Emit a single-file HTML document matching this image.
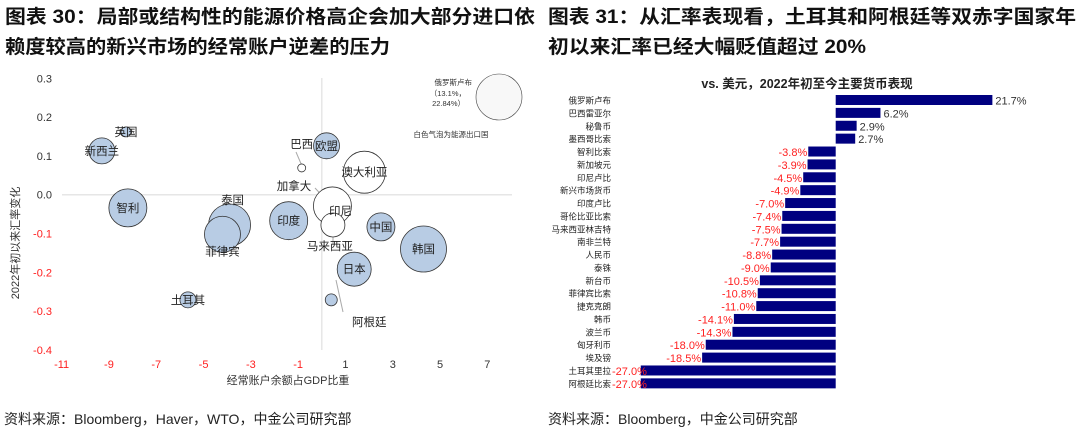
<!DOCTYPE html>
<html><head><meta charset="utf-8"><style>
html,body{margin:0;padding:0;background:#fff;width:1080px;height:435px;overflow:hidden}
text{font-family:"Liberation Sans","Noto Sans CJK SC",sans-serif}
</style></head><body>
<svg id="svg" width="1080" height="435" viewBox="0 0 1080 435" xmlns="http://www.w3.org/2000/svg">
<g font-weight="bold" font-size="19" fill="#111">
<text x="5" y="23" textLength="530" lengthAdjust="spacingAndGlyphs">图表 30：局部或结构性的能源价格高企会加大部分进口依</text>
<text x="5" y="53" textLength="385" lengthAdjust="spacingAndGlyphs">赖度较高的新兴市场的经常账户逆差的压力</text>
</g>
<g font-weight="bold" font-size="19" fill="#111">
<text x="548" y="23" textLength="528" lengthAdjust="spacingAndGlyphs">图表 31：从汇率表现看，土耳其和阿根廷等双赤字国家年</text>
<text x="548" y="53" textLength="318" lengthAdjust="spacingAndGlyphs">初以来汇率已经大幅贬值超过 20%</text>
</g>
<g id="bubble"></g>
<g id="bars"></g>
<text x="4" y="424" font-size="14" fill="#222">资料来源：Bloomberg，Haver，WTO，中金公司研究部</text>
<text x="548" y="424" font-size="14" fill="#222">资料来源：Bloomberg，中金公司研究部</text>
</svg>
<script>
// ---- bubble chart data ----
const bubbleNames = ["英国","新西兰","智利","泰国","菲律宾","土耳其","印度","巴西","欧盟","澳大利亚","印尼","马来西亚","中国","韩国","日本","阿根廷"];
const bubbleX = [-8.28,-9.3,-8.2,-3.9,-4.2,-5.66,-1.4,-0.85,0.2,1.8,0.45,0.47,2.5,4.3,1.37,0.4];
const bubbleY = [0.162,0.113,-0.034,-0.078,-0.102,-0.271,-0.067,0.069,0.126,0.058,-0.029,-0.078,-0.083,-0.14,-0.192,-0.271];
const bubbleSize = [5,13,19,21,18,8,19,4,13,21,19,12,14,23,17,6];
const bubbleExporter = [0,0,0,0,0,0,0,1,0,1,1,1,0,0,0,0];
const xTicks = [-11,-9,-7,-5,-3,-1,1,3,5,7];
const yTicks = [0.3,0.2,0.1,0.0,-0.1,-0.2,-0.3,-0.4];
// ---- bar chart data ----
const barCategories = ["俄罗斯卢布","巴西雷亚尔","秘鲁币","墨西哥比索","智利比索","新加坡元","印尼卢比","新兴市场货币","印度卢比","哥伦比亚比索","马来西亚林吉特","南非兰特","人民币","泰铢","新台币","菲律宾比索","捷克克朗","韩币","波兰币","匈牙利币","埃及镑","土耳其里拉","阿根廷比索"];
const barValues = [21.7,6.2,2.9,2.7,-3.8,-3.9,-4.5,-4.9,-7.0,-7.4,-7.5,-7.7,-8.8,-9.0,-10.5,-10.8,-11.0,-14.1,-14.3,-18.0,-18.5,-27.0,-27.0];

const NS="http://www.w3.org/2000/svg";
function mk(tag,attrs,parent,txt){const e=document.createElementNS(NS,tag);for(const k in attrs)e.setAttribute(k,attrs[k]);if(txt!=null)e.textContent=txt;parent.appendChild(e);return e;}

// bubble axes
const bx=v=>321.8+v*23.65;
const by=v=>194.7-v*388;
const B=document.getElementById('bubble');
let l;
l=mk('line',{x1:bx(0),x2:bx(0),y1:78,y2:350,stroke:'#e6e6e6','stroke-width':1.5},B);


l=mk('line',{x1:62,x2:512,y1:by(0),y2:by(0),stroke:'#e6e6e6','stroke-width':1.5},B);


yTicks.forEach(t=>{const e=mk('text',{x:52,y:by(t)+4,'text-anchor':'end','font-size':11,fill:t<0?'#ff2020':'#333'},B,t.toFixed(1));

});
xTicks.forEach(t=>{const e=mk('text',{x:bx(t),y:368,'text-anchor':'middle','font-size':11,fill:t<0?'#ff2020':'#333'},B,String(t));

});
let t2=mk('text',{x:288,y:384,'text-anchor':'middle','font-size':11,fill:'#333'},B,'经常账户余额占GDP比重');


t2=mk('text',{x:0,y:0,'text-anchor':'middle','font-size':11,fill:'#333',transform:'translate(19,243) rotate(-90)'},B,'2022年初以来汇率变化');


// leader lines
[[296,152,302,166],[315,188,330,204],[336,280,343,312],[333,234,333,245]].forEach(a=>{const e=mk('line',{x1:a[0],y1:a[1],x2:a[2],y2:a[3],stroke:'#aaa','stroke-width':1},B);

});
// labels offsets (relative to bubble center)
const lblOff={"英国":[0,0],"新西兰":[0,0],"智利":[0,0],"泰国":[3,-25],"菲律宾":[0,17],"土耳其":[0,0],"印度":[0,0],"巴西":[0,-24],"欧盟":[0,0],"澳大利亚":[0,0],"印尼":[8,5],"马来西亚":[-3,21],"中国":[0,0],"韩国":[0,0],"日本":[0,0],"阿根廷":[38,22]};
const lblExtra={"加拿大":[294,188]};
bubbleNames.forEach((n,i)=>{
  const c=mk('circle',{cx:bx(bubbleX[i]),cy:by(bubbleY[i]),r:bubbleSize[i],fill:bubbleExporter[i]?'#fff':'#b8cce4',stroke:'#333','stroke-width':0.8},B);
  
  
});
bubbleNames.forEach((n,i)=>{
  const o=lblOff[n];
  const tx=mk('text',{x:bx(bubbleX[i])+o[0],y:by(bubbleY[i])+o[1]+4,'text-anchor':'middle','font-size':11.5,fill:'#222'},B,n);
  
  
});
let ca=mk('text',{x:294,y:190,'text-anchor':'middle','font-size':11.5,fill:'#222'},B,'加拿大');


// russia annotation
let rc=mk('circle',{cx:499,cy:97,r:23,fill:'#f8f8f8',stroke:'#444','stroke-width':0.6},B);


[['俄罗斯卢布',85,472],['（13.1%，',96,466],['22.84%）',106,465]].forEach(a=>{const e=mk('text',{x:a[2],y:a[1],'text-anchor':'end','font-size':7.5,fill:'#333'},B,a[0]);

});
let ws=mk('text',{x:451,y:137,'text-anchor':'middle','font-size':7.5,fill:'#333'},B,'白色气泡为能源出口国');



// bar chart
const R=document.getElementById('bars');
const px=v=>835.7+v*7.22;
const rowY=i=>100+i*12.88;
let bt=mk('text',{x:807,y:88,'text-anchor':'middle','font-size':12.5,'font-weight':'bold',fill:'#222'},R,'vs. 美元，2022年初至今主要货币表现');


barValues.forEach((v,i)=>{
  const x0=Math.min(px(0),px(v)), w=Math.abs(px(v)-px(0));
  const r=mk('rect',{x:x0,y:rowY(i)-5,width:w,height:10,fill:'#000080'},R);
  
  
  const c=mk('text',{x:611,y:rowY(i)+3.5,'text-anchor':'end','font-size':8.5,fill:'#222'},R,barCategories[i]);
  
  
  const lb=v>=0?mk('text',{x:px(v)+3,y:rowY(i)+4.5,'text-anchor':'start','font-size':11,fill:'#333'},R,v.toFixed(1)+'%')
              :mk('text',{x:px(v)-1,y:rowY(i)+4.5,'text-anchor':'end','font-size':11,fill:'#ff2020'},R,v.toFixed(1)+'%');
  if(v<-25){lb.setAttribute('text-anchor','start');lb.setAttribute('x',612);}
  
  
});
</script>
</body></html>
